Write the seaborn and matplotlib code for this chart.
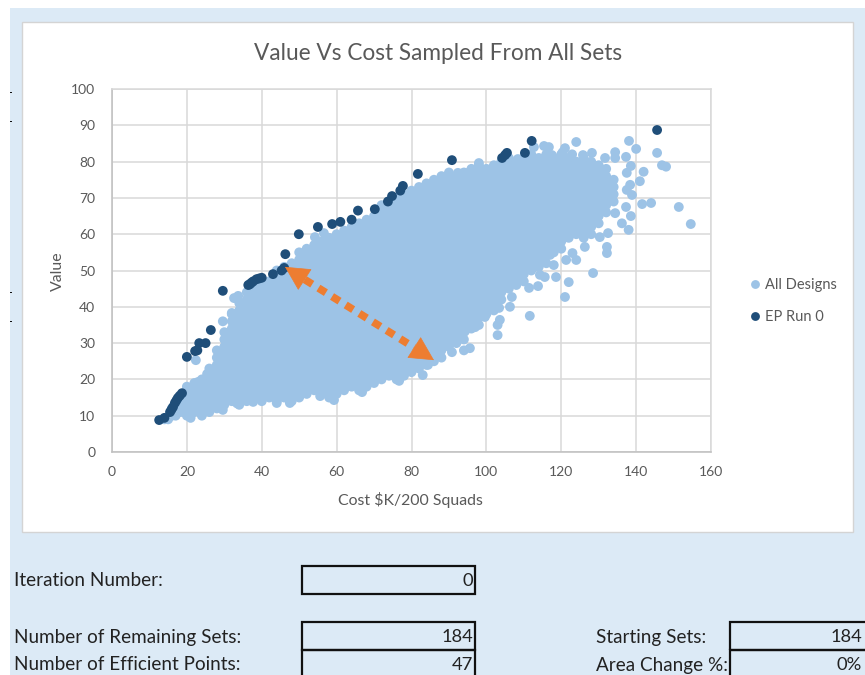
import matplotlib
matplotlib.use('Agg')
import matplotlib.pyplot as plt
from matplotlib.patches import Rectangle
import pandas as pd
import seaborn as sns

# Dense part of the cloud
core_x = list(range(14, 136, 2))
core_y = [
    [9],
    [10, 12],
    [11, 13, 15],
    [10, 12, 14, 16, 18],
    [11, 13, 15, 17, 19],
    [10, 12, 14, 16, 18, 20],
    [11, 13, 15, 17, 19, 21, 23],
    [12, 14, 16, 18, 20, 22, 24, 26, 28],
    [13, 15, 17, 19, 21, 23, 25, 27, 29, 31, 33],
    [14, 16, 18, 20, 22, 24, 26, 28, 30, 32, 34, 36, 38],
    [13, 15, 17, 19, 21, 23, 25, 27, 29, 31, 33, 35, 37, 39, 41],
    [14, 16, 18, 20, 22, 24, 26, 28, 30, 32, 34, 36, 38, 40, 42, 44],
    [15, 17, 19, 21, 23, 25, 27, 29, 31, 33, 35, 37, 39, 41, 43, 45],
    [14, 16, 18, 20, 22, 24, 26, 28, 30, 32, 34, 36, 38, 40, 42, 44, 46],
    [15, 17, 19, 21, 23, 25, 27, 29, 31, 33, 35, 37, 39, 41, 43, 45, 47],
    [14, 16, 18, 20, 22, 24, 26, 28, 30, 32, 34, 36, 38, 40, 42, 44, 46, 48, 50],
    [15, 17, 19, 21, 23, 25, 27, 29, 31, 33, 35, 37, 39, 41, 43, 45, 47, 49, 51],
    [14, 16, 18, 20, 22, 24, 26, 28, 30, 32, 34, 36, 38, 40, 42, 44, 46, 48, 50, 52],
    [15, 17, 19, 21, 23, 25, 27, 29, 31, 33, 35, 37, 39, 41, 43, 45, 47, 49, 51, 53, 55],
    [16, 18, 20, 22, 24, 26, 28, 30, 32, 34, 36, 38, 40, 42, 44, 46, 48, 50, 52, 54, 56],
    [17, 19, 21, 23, 25, 27, 29, 31, 33, 35, 37, 39, 41, 43, 45, 47, 49, 51, 53, 55, 57],
    [16, 18, 20, 22, 24, 26, 28, 30, 32, 34, 36, 38, 40, 42, 44, 46, 48, 50, 52, 54, 56, 58],
    [15, 17, 19, 21, 23, 25, 27, 29, 31, 33, 35, 37, 39, 41, 43, 45, 47, 49, 51, 53, 55, 57, 59],
    [16, 18, 20, 22, 24, 26, 28, 30, 32, 34, 36, 38, 40, 42, 44, 46, 48, 50, 52, 54, 56, 58, 60],
    [17, 19, 21, 23, 25, 27, 29, 31, 33, 35, 37, 39, 41, 43, 45, 47, 49, 51, 53, 55, 57, 59, 61],
    [18, 20, 22, 24, 26, 28, 30, 32, 34, 36, 38, 40, 42, 44, 46, 48, 50, 52, 54, 56, 58, 60, 62],
    [17, 19, 21, 23, 25, 27, 29, 31, 33, 35, 37, 39, 41, 43, 45, 47, 49, 51, 53, 55, 57, 59, 61, 63],
    [18, 20, 22, 24, 26, 28, 30, 32, 34, 36, 38, 40, 42, 44, 46, 48, 50, 52, 54, 56, 58, 60, 62, 64],
    [19, 21, 23, 25, 27, 29, 31, 33, 35, 37, 39, 41, 43, 45, 47, 49, 51, 53, 55, 57, 59, 61, 63, 65],
    [20, 22, 24, 26, 28, 30, 32, 34, 36, 38, 40, 42, 44, 46, 48, 50, 52, 54, 56, 58, 60, 62, 64, 66, 68],
    [21, 23, 25, 27, 29, 31, 33, 35, 37, 39, 41, 43, 45, 47, 49, 51, 53, 55, 57, 59, 61, 63, 65, 67, 69],
    [20, 22, 24, 26, 28, 30, 32, 34, 36, 38, 40, 42, 44, 46, 48, 50, 52, 54, 56, 58, 60, 62, 64, 66, 68, 70],
    [21, 23, 25, 27, 29, 31, 33, 35, 37, 39, 41, 43, 45, 47, 49, 51, 53, 55, 57, 59, 61, 63, 65, 67, 69, 71],
    [22, 24, 26, 28, 30, 32, 34, 36, 38, 40, 42, 44, 46, 48, 50, 52, 54, 56, 58, 60, 62, 64, 66, 68, 70, 72],
    [23, 25, 27, 29, 31, 33, 35, 37, 39, 41, 43, 45, 47, 49, 51, 53, 55, 57, 59, 61, 63, 65, 67, 69, 71, 73],
    [24, 26, 28, 30, 32, 34, 36, 38, 40, 42, 44, 46, 48, 50, 52, 54, 56, 58, 60, 62, 64, 66, 68, 70, 72, 74],
    [25, 27, 29, 31, 33, 35, 37, 39, 41, 43, 45, 47, 49, 51, 53, 55, 57, 59, 61, 63, 65, 67, 69, 71, 73, 75],
    [26, 28, 30, 32, 34, 36, 38, 40, 42, 44, 46, 48, 50, 52, 54, 56, 58, 60, 62, 64, 66, 68, 70, 72, 74, 76],
    [29, 31, 33, 35, 37, 39, 41, 43, 45, 47, 49, 51, 53, 55, 57, 59, 61, 63, 65, 67, 69, 71, 73, 75, 77],
    [30, 32, 34, 36, 38, 40, 42, 44, 46, 48, 50, 52, 54, 56, 58, 60, 62, 64, 66, 68, 70, 72, 74, 76],
    [31, 33, 35, 37, 39, 41, 43, 45, 47, 49, 51, 53, 55, 57, 59, 61, 63, 65, 67, 69, 71, 73, 75, 77],
    [34, 36, 38, 40, 42, 44, 46, 48, 50, 52, 54, 56, 58, 60, 62, 64, 66, 68, 70, 72, 74, 76, 78],
    [35, 37, 39, 41, 43, 45, 47, 49, 51, 53, 55, 57, 59, 61, 63, 65, 67, 69, 71, 73, 75, 77, 79],
    [38, 40, 42, 44, 46, 48, 50, 52, 54, 56, 58, 60, 62, 64, 66, 68, 70, 72, 74, 76, 78],
    [39, 41, 43, 45, 47, 49, 51, 53, 55, 57, 59, 61, 63, 65, 67, 69, 71, 73, 75, 77, 79],
    [42, 44, 46, 48, 50, 52, 54, 56, 58, 60, 62, 64, 66, 68, 70, 72, 74, 76, 78, 80],
    [45, 47, 49, 51, 53, 55, 57, 59, 61, 63, 65, 67, 69, 71, 73, 75, 77, 79, 81],
    [46, 48, 50, 52, 54, 56, 58, 60, 62, 64, 66, 68, 70, 72, 74, 76, 78, 80],
    [47, 49, 51, 53, 55, 57, 59, 61, 63, 65, 67, 69, 71, 73, 75, 77, 79, 81],
    [50, 52, 54, 56, 58, 60, 62, 64, 66, 68, 70, 72, 74, 76, 78, 80, 82],
    [51, 53, 55, 57, 59, 61, 63, 65, 67, 69, 71, 73, 75, 77, 79, 81],
    [52, 54, 56, 58, 60, 62, 64, 66, 68, 70, 72, 74, 76, 78, 80, 82],
    [55, 57, 59, 61, 63, 65, 67, 69, 71, 73, 75, 77, 79, 81],
    [56, 58, 60, 62, 64, 66, 68, 70, 72, 74, 76, 78, 80, 82],
    [59, 61, 63, 65, 67, 69, 71, 73, 75, 77, 79, 81],
    [60, 62, 64, 66, 68, 70, 72, 74, 76, 78, 80],
    [59, 61, 63, 65, 67, 69, 71, 73, 75, 77, 79, 81],
    [60, 62, 64, 66, 68, 70, 72, 74, 76, 78, 80],
    [63, 65, 67, 69, 71, 73, 75, 77, 79],
    [66, 68, 70, 72, 74, 76, 78],
    [69, 71, 73, 75],
]

# Loose points around the edge of the cloud
edge_x = [138.1, 140, 145.6, 146.9, 148, 142, 141, 138.4, 137.5, 138.9, 141.6, 144, 151.4, 154.6,
          137.3, 138.6, 138, 136.2, 134.4, 137.3, 138.6, 137.5, 134.4, 134.4, 124, 121, 120.4, 122.9,
          115.4, 116.7, 112.7, 117.5, 125.8, 128.2, 131.7, 132.2, 132.2, 128.5, 122, 121, 111.6, 118,
          118.6, 115.6, 113.8, 111.4, 124, 126.3, 130.3, 132.5, 106.8, 106.3, 103.4, 103.6, 103, 103,
          94.3, 97, 23, 25.4, 22.4, 29.6, 32, 32.6, 33.7, 54.2, 56.6, 21, 29.6, 33.4, 37.7, 44, 47.5,
          55.6, 59.3, 66.8, 76.7, 83, 81.7, 84.4, 87.3, 90.8, 94, 95.6, 90.8, 96, 98, 92.4, 94.3, 88.9,
          86.3, 108.4, 97, 99.6, 114.3, 123, 121.3, 117, 15, 17, 19]
edge_y = [85.7, 83.5, 82.4, 79, 78.6, 77.2, 74.6, 73.6, 72.2, 70.8, 68.3, 68.6, 67.5, 62.8,
          67.5, 65, 61.2, 63, 65.8, 81.3, 78.8, 76.9, 82.6, 81, 85.4, 83.7, 82.6, 82,
          84.3, 84, 84, 81.8, 81.8, 82.4, 81, 56.5, 54.8, 49.3, 46.8, 42.7, 37.5, 51.5,
          48.2, 48.2, 45.7, 45.2, 52.9, 56.5, 59.2, 60.3, 42.7, 40, 39.7, 36.4, 35, 32.2,
          33.3, 34.4, 19.3, 21.5, 25.3, 36, 38.3, 42.4, 43, 59.2, 60.3, 9.4, 11.6, 13.4, 13.8, 13.5, 13.5,
          15.4, 14.3, 16.5, 19.6, 21.2, 23.4, 24, 27, 27.5, 28, 28.6, 31.4, 36.4, 79.6, 76.9, 76.9, 75.8,
          74, 80.7, 37.2, 37.2, 48.8, 54.8, 52.9, 54.3, 9, 10, 11]

# Efficient points (EP Run 0)
ep_x = [12.6, 14, 15.5, 15.9, 16.3, 16.8, 17.2, 17.6, 18.1, 18.7, 20, 22.2, 22.8, 23.3, 25, 26.4, 29.6,
        36.4, 36.8, 37.7, 38.6, 40, 43, 45.3, 46, 46.3, 49.9, 55, 58.8, 61, 64, 65.7, 70.2, 73.7,
        74.8, 77, 77.7, 81.7, 90.8, 104.2, 105, 105.5, 110.3, 112.1, 145.6, 37.2, 39.3]
ep_y = [8.8, 9.4, 11, 11.7, 12.4, 13.5, 14.2, 14.9, 15.5, 16.2, 26.2, 27.8, 28, 30, 30, 33.6, 44.4,
        46, 46.2, 47, 47.6, 48, 49, 50, 50.7, 54.5, 60, 62, 62.8, 63.4, 64, 66.5, 66.9, 69,
        70.5, 72, 73.3, 76.6, 80.4, 81, 81.8, 82.4, 82.4, 85.7, 88.7, 46.6, 47.8]

series_names = ['All Designs', 'EP Run 0']
x_ticks = [0, 20, 40, 60, 80, 100, 120, 140, 160]
y_ticks = [0, 10, 20, 30, 40, 50, 60, 70, 80, 90, 100]

# Orange arrow ends and the points where the solid heads start
arrow_a = (46.2, 51)
arrow_b = (86, 25.3)
head_a = (51.5, 47.5)
head_b = (80.7, 28.8)

# Cells under the chart: label, value, label x, box left, box right, box top, box bottom (pixels)
cell_labels = ['Iteration Number:', 'Number of Remaining Sets:', 'Number of Efficient Points:',
               'Starting Sets:', 'Area Change %:']
cell_values = ['0', '184', '47', '184', '0%']
cell_left = [302, 302, 302, 730, 730]
cell_right = [475, 475, 475, 880, 880]
cell_top = [566, 622, 650, 622, 650]
cell_bottom = [594, 650, 690, 650, 690]
label_x = [14, 14, 14, 596, 596]
value_x = [473, 473, 473, 862, 862]
text_y = [581, 637, 665, 637, 665]

W, H = 865, 675


def fx(px):
    return px / W


def fy(py):
    return 1 - py / H


def px_rect(fig, left, top, right, bottom, **kw):
    r = Rectangle((fx(left), fy(bottom)), (right - left) / W, (bottom - top) / H,
                  transform=fig.transFigure, **kw)
    fig.add_artist(r)
    return r


rows = []
for x, ys in zip(core_x, core_y):
    for y in ys:
        rows.append((x, y, series_names[0]))
rows += [(x, y, series_names[0]) for x, y in zip(edge_x, edge_y)]
rows += [(x, y, series_names[1]) for x, y in zip(ep_x, ep_y)]
df = pd.DataFrame(rows, columns=['cost', 'value', 'series'])

sns.set_style('white')
plt.rcParams['font.family'] = ['Lato', 'DejaVu Sans']

fig = plt.figure(figsize=(W / 100, H / 100), dpi=100, facecolor='white')
px_rect(fig, 10, 8, 880, 690, facecolor='#DCEAF6', edgecolor='none', zorder=-3)
px_rect(fig, 22, 22, 853, 532, facecolor='white', edgecolor='#D4D4D4', linewidth=1, zorder=-2)

ax = fig.add_axes([fx(112), fy(452), (711 - 112) / W, (452 - 89) / H])
ax.set_axisbelow(True)
sns.scatterplot(data=df, x='cost', y='value', hue='series', hue_order=series_names,
                palette=['#9DC3E6', '#1F4E79'], s=50, linewidth=0, alpha=1, ax=ax, clip_on=False)

ax.set_xlim(0, 160)
ax.set_ylim(0, 100)
ax.set_xticks(x_ticks)
ax.set_yticks(y_ticks)
ax.grid(True, color='#D9D9D9', linewidth=1.1)
ax.tick_params(length=0, labelsize=10, labelcolor='#595959')
ax.tick_params(axis='x', pad=10)
ax.tick_params(axis='y', pad=12)
for side, spine in ax.spines.items():
    spine.set_color('#BFBFBF' if side in ('left', 'bottom') else '#D9D9D9')
    spine.set_linewidth(1.1)
ax.set_xlabel('')
ax.set_ylabel('')

fig.text(fx(438), fy(53), 'Value Vs Cost Sampled From All Sets', fontsize=16.3, color='#595959',
         ha='center', va='center')
fig.text(fx(410), fy(500), 'Cost $K/200 Squads', fontsize=11.4, color='#595959',
         ha='center', va='center', parse_math=False)
fig.text(fx(58), fy(271), 'Value', fontsize=11.4, color='#595959', rotation=90,
         ha='center', va='center')

leg = ax.legend(loc='center left', bbox_to_anchor=(fx(727), fy(301)), bbox_transform=fig.transFigure,
                frameon=False, fontsize=10.5, labelspacing=1.22, handletextpad=-0.3,
                labelcolor='#595959', markerscale=0.9)

# Dashed shaft, then one solid head at each end
ax.annotate('', xy=head_b, xytext=head_a,
            arrowprops=dict(arrowstyle='-', color='#ED7D31', linewidth=5.5,
                            linestyle=(0, (1.15, 0.95)), shrinkA=0, shrinkB=0, capstyle='butt'))
for tip, start in [(arrow_a, head_a), (arrow_b, head_b)]:
    ax.annotate('', xy=tip, xytext=start,
                arrowprops=dict(arrowstyle='-|>,head_length=1.25,head_width=0.65', color='#ED7D31',
                                linewidth=0.5, shrinkA=0, shrinkB=0, mutation_scale=13))

# Table cells below the panel
for i in range(len(cell_labels)):
    px_rect(fig, cell_left[i], cell_top[i], cell_right[i], cell_bottom[i],
            facecolor='none', edgecolor='#111111', linewidth=1.6)
    fig.text(fx(label_x[i]), fy(text_y[i]), cell_labels[i], fontsize=13.6, color='#222222',
             ha='left', va='center')
    fig.text(fx(value_x[i]), fy(text_y[i]), cell_values[i], fontsize=13.2, color='#222222',
             ha='right', va='center')

# Stray cell marks on the left edge
for py in [92, 121, 292, 321]:
    px_rect(fig, 10, py, 12, py + 1.2, facecolor='#111111', edgecolor='none')

fig.savefig('out.png', dpi=100)
